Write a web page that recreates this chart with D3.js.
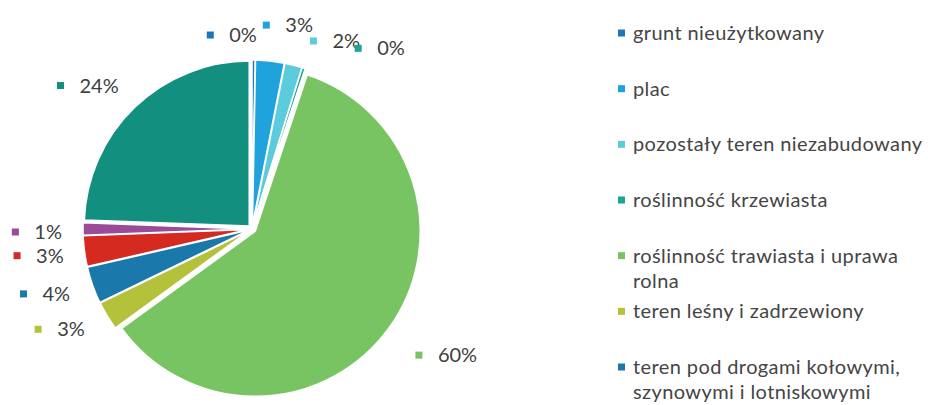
<!DOCTYPE html>
<html>
<head>
<meta charset="utf-8">
<script src="https://cdn.jsdelivr.net/npm/d3@7"></script>
<style>
  html, body { margin: 0; padding: 0; background: #ffffff; }
  svg { display: block; font-family: Lato, "Noto Sans", sans-serif; }
</style>
</head>
<body>
<svg id="chart" width="928" height="405"></svg>
<script>
// Land-use categories, clockwise from 12 o'clock
const categories = [
  "grunt nieużytkowany",
  "plac",
  "pozostały teren niezabudowany",
  "roślinność krzewiasta",
  "roślinność trawiasta i uprawa rolna",
  "teren leśny i zadrzewiony",
  "teren pod drogami kołowymi, szynowymi i lotniskowymi",
  "teren pod wodami",
  "teren składowisk",
  "teren zabudowany"
];
// Share of area, in percent
const shares = [0.3, 2.8, 1.7, 0.3, 59.9, 2.8, 3.6, 3.0, 1.2, 24.4];
const colors = [
  "#1b76bd", "#1fa3dc", "#5ccbdc", "#1aa595", "#79c462",
  "#b4c13a", "#1a78aa", "#d42a20", "#9b4c99", "#138f80"
];
// Legend rows (wrapped text lines per entry)
const legendEntries = [
  ["grunt nieużytkowany"],
  ["plac"],
  ["pozostały teren niezabudowany"],
  ["roślinność krzewiasta"],
  ["roślinność trawiasta i uprawa", "rolna"],
  ["teren leśny i zadrzewiony"],
  ["teren pod drogami kołowymi,", "szynowymi i lotniskowymi"]
];

const data = categories.map((c, i) => ({ name: c, value: shares[i], color: colors[i] }));

const svg = d3.select("#chart");
const cx = 252, cy = 229, radius = 165, explode = 4, labelRadius = 195;
const textColor = "#404040";

const pie = d3.pie().sort(null).value(d => d.value);
const arcs = pie(data);
const arc = d3.arc().innerRadius(0).outerRadius(radius);

const g = svg.append("g").attr("transform", `translate(${cx},${cy})`);

// Slices, each pushed slightly outward along its mid-angle
g.selectAll("path.slice")
  .data(arcs)
  .join("path")
  .attr("class", "slice")
  .attr("d", arc)
  .attr("fill", d => d.data.color)
  .attr("stroke", "#ffffff")
  .attr("stroke-width", 1.5)
  .attr("transform", d => {
    const a = (d.startAngle + d.endAngle) / 2;
    return `translate(${explode * Math.sin(a)},${-explode * Math.cos(a)})`;
  });

// Data labels: colour key + percentage, placed outside the pie
const labelNudge = {
  "grunt nieużytkowany": [-22, 1],
  "plac": [-10, -10],
  "pozostały teren niezabudowany": [10, 1],
  "roślinność krzewiasta": [43, 5],
  "roślinność trawiasta i uprawa rolna": [6, 11],
  "teren pod drogami kołowymi, szynowymi i lotniskowymi": [2, 0],
  "teren pod wodami": [5, 1],
  "teren składowisk": [5, 3],
  "teren zabudowany": [2, -3]
};
const keyToText = 19, keySize = 7;

const labels = svg.append("g").attr("font-size", 20).attr("fill", textColor);
arcs.forEach(d => {
  const a = (d.startAngle + d.endAngle) / 2;
  const bx = cx + labelRadius * Math.sin(a);
  const by = cy - labelRadius * Math.cos(a);
  const lg = labels.append("g");
  const t = lg.append("text")
    .attr("dy", "0.35em")
    .text(Math.round(d.data.value) + "%");
  const tw = t.node().getComputedTextLength();
  const boxW = keySize / 2 + keyToText + tw;
  const s = Math.sin(a);
  let keyX;
  if (Math.abs(s) < 0.1) keyX = bx - boxW / 2 + keySize / 2;
  else if (s > 0) keyX = bx + keySize / 2;
  else keyX = bx - boxW + keySize / 2;
  const n = labelNudge[d.data.name] || [0, 0];
  keyX += n[0];
  const keyY = by + n[1];
  lg.append("rect")
    .attr("x", keyX - keySize / 2)
    .attr("y", keyY - keySize / 2)
    .attr("width", keySize)
    .attr("height", keySize)
    .attr("fill", d.data.color);
  t.attr("x", keyX + keyToText).attr("y", keyY);
});

// Legend
const legendY = d3.scalePoint()
  .domain(d3.range(legendEntries.length))
  .range([33, 367]);
const legendColor = d3.scaleOrdinal().domain(categories).range(colors);
const legend = svg.append("g")
  .attr("font-size", 20)
  .attr("letter-spacing", 0.4)
  .attr("fill", "#454545");
legendEntries.forEach((lines, i) => {
  const y = legendY(i);
  const name = lines.join(" ");
  legend.append("rect")
    .attr("x", 618)
    .attr("y", y - keySize / 2)
    .attr("width", keySize)
    .attr("height", keySize)
    .attr("fill", legendColor(name));
  const t = legend.append("text").attr("x", 633).attr("y", y);
  lines.forEach((ln, j) => {
    t.append("tspan").attr("x", 633).attr("dy", j === 0 ? "0.35em" : 25).text(ln);
  });
});
</script>
</body>
</html>
